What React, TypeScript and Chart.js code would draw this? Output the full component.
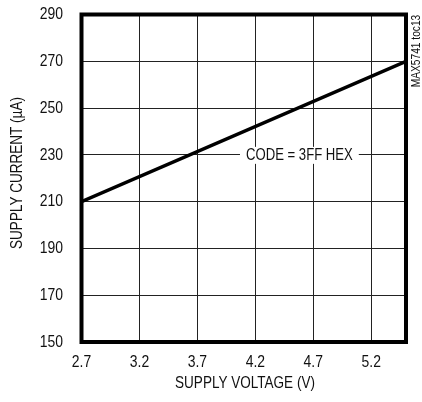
import React, { useEffect, useRef } from "react";
import { Chart, registerables } from "chart.js";

Chart.register(...registerables);

const voltage = [2.7, 5.5];
const current = [210, 270];
const xTickValues = [2.7, 3.2, 3.7, 4.2, 4.7, 5.2, 5.5];
const xLabelsShown = ["2.7", "3.2", "3.7", "4.2", "4.7", "5.2", ""];
const yMin = 150;
const yMax = 290;
const yStep = 20;
const xTitle = "SUPPLY VOLTAGE (V)";
const yTitle = "SUPPLY CURRENT (\u00B5A)";
const annotationText = "CODE = 3FF HEX";
const annotationPos = { x: 4.58, y: 230 };
const sideNote = "MAX5741 toc13";

const FONT = "'Liberation Sans', Arial, sans-serif";
const NARROW = 0.82;

function narrowText(ctx: any, text: string, x: number, y: number, size: number, align: string, rot = 0, squeeze = NARROW) {
  ctx.save();
  ctx.font = `${size}px ${FONT}`;
  ctx.textBaseline = "middle";
  ctx.textAlign = align;
  ctx.translate(x, y);
  if (rot) ctx.rotate(rot);
  ctx.scale(squeeze, 1);
  ctx.fillText(text, 0, 0);
  ctx.restore();
}

const decorPlugin = {
  id: "decor",
  afterDatasetsDraw(chart: any) {
    const { ctx, chartArea, scales } = chart;
    const xs = scales.x;
    const ys = scales.y;
    ctx.save();
    ctx.fillStyle = "#111";
    // annotation label with white background
    ctx.font = `16px ${FONT}`;
    const px = xs.getPixelForValue(annotationPos.x);
    const py = ys.getPixelForValue(annotationPos.y);
    const tw = ctx.measureText(annotationText).width * NARROW;
    ctx.fillStyle = "#fff";
    ctx.fillRect(px - tw / 2 - 6, py - 8, tw + 12, 17);
    ctx.fillStyle = "#111";
    narrowText(ctx, annotationText, px, py + 1, 16, "center");
    // thick frame
    ctx.strokeStyle = "#000";
    ctx.lineWidth = 4;
    ctx.strokeRect(
      chartArea.left,
      chartArea.top,
      chartArea.right - chartArea.left,
      chartArea.bottom - chartArea.top
    );
    // tick labels from the scales
    xs.ticks.forEach((t: any) => {
      const idx = xTickValues.findIndex((v) => Math.abs(v - t.value) < 1e-6);
      const label = idx >= 0 ? xLabelsShown[idx] : "";
      if (label) narrowText(ctx, label, xs.getPixelForValue(t.value), 362, 17, "center");
    });
    ys.ticks.forEach((t: any) => {
      narrowText(ctx, String(t.value), 63, ys.getPixelForValue(t.value), 17, "right");
    });
    // axis titles
    narrowText(ctx, xTitle, 245, 383, 16.5, "center");
    narrowText(ctx, yTitle, 17, 173, 16.5, "center", -Math.PI / 2);
    // side note
    narrowText(ctx, sideNote, 417, 51, 12, "center", -Math.PI / 2, 0.85);
    ctx.restore();
  },
};

export default function App() {
  const canvasRef = useRef<HTMLCanvasElement | null>(null);

  useEffect(() => {
    document.body.style.margin = "0";
    const canvas = canvasRef.current;
    if (!canvas) return;
    const chart = new Chart(canvas, {
      type: "line",
      data: {
        datasets: [
          {
            data: voltage.map((v, i) => ({ x: v, y: current[i] })),
            borderColor: "#000",
            borderWidth: 3.5,
            pointRadius: 0,
            tension: 0,
            fill: false,
          },
        ],
      },
      options: {
        animation: false,
        responsive: true,
        maintainAspectRatio: false,
        layout: { padding: { top: 14.5, right: 16, left: 0, bottom: 0 } },
        plugins: {
          legend: { display: false },
          tooltip: { enabled: false },
        },
        scales: {
          x: {
            type: "linear",
            min: xTickValues[0],
            max: xTickValues[xTickValues.length - 1],
            afterBuildTicks: (scale: any) => {
              scale.ticks = xTickValues.map((v) => ({ value: v }));
            },
            afterFit: (scale: any) => {
              scale.height = 60;
            },
            ticks: { display: false, autoSkip: false },
            grid: { color: "#222", lineWidth: 1, drawTicks: false },
            border: { display: false },
          },
          y: {
            type: "linear",
            min: yMin,
            max: yMax,
            afterFit: (scale: any) => {
              scale.width = 81.5;
            },
            ticks: { display: false, stepSize: yStep },
            grid: { color: "#222", lineWidth: 1, drawTicks: false },
            border: { display: false },
          },
        },
      },
      plugins: [decorPlugin],
    });
    return () => chart.destroy();
  }, []);

  return (
    <div style={{ position: "relative", width: 422, height: 402 }}>
      <canvas ref={canvasRef} />
    </div>
  );
}
